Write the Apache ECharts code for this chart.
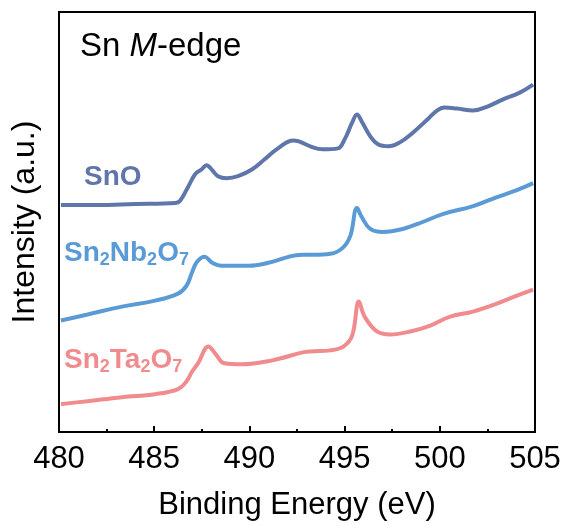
<!DOCTYPE html>
<html>
<head>
<meta charset="utf-8">
<script src="https://cdn.jsdelivr.net/npm/echarts@6/dist/echarts.min.js"></script>
<style>html,body{margin:0;padding:0;background:#fff}#c{width:566px;height:526px}</style>
</head>
<body>
<div id="c"></div>
<script>
const xTicks = [480, 485, 490, 495, 500, 505];
const seriesNames = ['SnO', 'Sn2Nb2O7', 'Sn2Ta2O7'];

const snoE = [480.1, 482.0, 484.0, 486.1, 486.35, 486.8, 487.15, 487.5, 487.75, 488.05, 488.35, 488.8, 489.4, 490.15, 490.8, 491.5, 492.3, 492.6, 493.2, 493.85, 494.65, 495.0, 495.4, 495.65, 495.9, 496.35, 496.75, 497.3, 497.9, 498.6, 499.35, 499.85, 500.25, 500.9, 501.75, 502.5, 503.3, 504.2, 504.9];
const snoI = [228, 228, 229, 230, 232, 247, 259, 264, 268, 263, 257, 255, 257, 264, 274, 285, 293, 292, 287, 284, 285, 294, 311, 319, 312, 297, 289, 287, 291, 301, 314, 323, 326, 325, 323, 327, 334, 341, 349];

const nbE = [480.1, 481.5, 483.3, 485.05, 486.25, 486.7, 487.0, 487.25, 487.65, 488.05, 488.55, 489.95, 491.0, 492.05, 492.8, 493.35, 494.25, 494.9, 495.3, 495.65, 495.9, 496.35, 497.0, 498.05, 499.1, 500.15, 501.75, 503.0, 504.05, 504.9];
const nbI = [112, 118, 126, 132, 139, 147, 161, 171, 176, 170, 167, 167, 170, 176, 178, 178, 179, 185, 197, 225, 216, 204, 201, 204, 211, 219, 227, 236, 243, 250];

const taE = [480.1, 481.5, 483.3, 485.05, 486.25, 486.7, 487.0, 487.3, 487.85, 488.2, 488.7, 489.6, 491.2, 492.8, 493.2, 494.25, 494.95, 495.4, 495.75, 496.05, 496.7, 497.4, 498.45, 499.5, 500.55, 501.75, 503.0, 504.05, 504.9];
const taI = [28, 31, 35, 38, 43, 51, 61, 69, 86, 79, 69, 68, 72, 80, 81, 82, 86, 97, 131, 116, 101, 98, 101, 107, 116, 121, 129, 137, 143];

const colors = ['#5f76aa', '#5b9bd5', '#f08b8e'];
const FONT = 'Liberation Sans, Arial, sans-serif';

function pairs(xs, ys) { return xs.map((x, i) => [x, ys[i]]); }

const chart = echarts.init(document.getElementById('c'), null, {renderer: 'canvas'});

const labelRich = (color) => ({
  m: {fontSize: 28, fontWeight: 'bold', fill: color, fontFamily: FONT, lineHeight: 32},
  s: {fontSize: 18, fontWeight: 'bold', fill: color, fontFamily: FONT, lineHeight: 18, verticalAlign: 'bottom'}
});

chart.setOption({
  animation: false,
  grid: {left: 59, right: 31, top: 12, bottom: 92, show: true, borderColor: '#000', borderWidth: 2, backgroundColor: 'transparent'},
  xAxis: {
    type: 'value', min: 480, max: 505, interval: 5,
    name: 'Binding Energy (eV)', nameLocation: 'middle', nameGap: 58,
    nameTextStyle: {fontSize: 31, color: '#000', fontFamily: FONT},
    axisLine: {show: true, onZero: false, lineStyle: {color: '#000', width: 2}},
    axisTick: {show: true, inside: true, length: 6, lineStyle: {color: '#000', width: 2}},
    minorTick: {show: true, splitNumber: 2, length: 3, lineStyle: {color: '#000', width: 2}},
    axisLabel: {fontSize: 31, color: '#000', fontFamily: FONT, margin: 12},
    splitLine: {show: false}
  },
  yAxis: {
    type: 'value', min: 0, max: 422,
    name: 'Intensity (a.u.)', nameLocation: 'middle', nameGap: 18, nameRotate: 90,
    nameTextStyle: {fontSize: 32, color: '#000', fontFamily: FONT},
    axisLine: {show: true, lineStyle: {color: '#000', width: 2}},
    axisTick: {show: false}, axisLabel: {show: false}, splitLine: {show: false}
  },
  series: [
    {name: seriesNames[0], type: 'line', data: pairs(snoE, snoI), smooth: 0.4, showSymbol: false, lineStyle: {color: colors[0], width: 4}},
    {name: seriesNames[1], type: 'line', data: pairs(nbE, nbI), smooth: 0.4, showSymbol: false, lineStyle: {color: colors[1], width: 4}},
    {name: seriesNames[2], type: 'line', data: pairs(taE, taI), smooth: 0.4, showSymbol: false, lineStyle: {color: colors[2], width: 4}}
  ],
  graphic: [
    {type: 'text', left: 80, top: 30, style: {
      text: '{n|Sn }{i|M}{n|-edge}',
      rich: {
        n: {fontSize: 33, fill: '#000', fontFamily: FONT},
        i: {fontSize: 33, fill: '#000', fontFamily: FONT, fontStyle: 'italic'}
      }}},
    {type: 'text', left: 84, top: 163, style: {text: '{m|SnO}', rich: labelRich(colors[0])}},
    {type: 'text', left: 64, top: 239, style: {text: '{m|Sn}{s|2}{m|Nb}{s|2}{m|O}{s|7}', rich: labelRich(colors[1])}},
    {type: 'text', left: 64, top: 346, style: {text: '{m|Sn}{s|2}{m|Ta}{s|2}{m|O}{s|7}', rich: labelRich(colors[2])}}
  ]
});
</script>
</body>
</html>
